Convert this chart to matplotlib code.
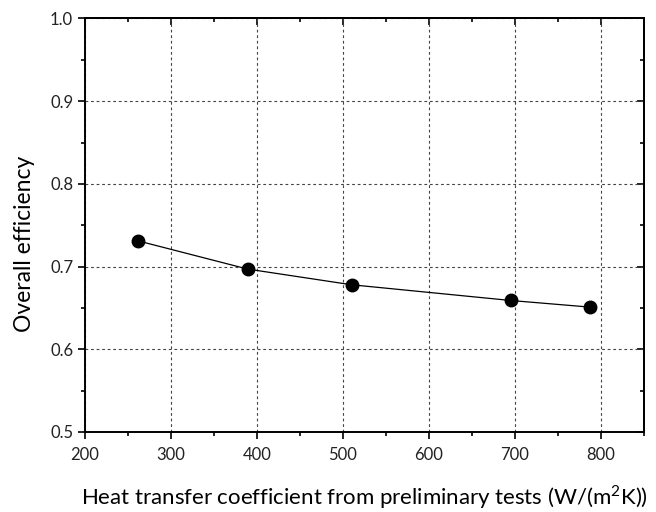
import numpy as np
import matplotlib
matplotlib.use("Agg")
import matplotlib.pyplot as plt
from matplotlib.ticker import MultipleLocator

# heat transfer coefficient vs overall efficiency
htc = [262, 389, 510, 695, 787]
efficiency = [0.731, 0.697, 0.678, 0.659, 0.651]

plt.rcParams["font.family"] = ["Lato", "DejaVu Sans"]
plt.rcParams["mathtext.fontset"] = "custom"
plt.rcParams["mathtext.rm"] = "Lato"

fig = plt.figure(figsize=(6.56, 5.12), dpi=100)
ax = fig.add_axes([0.1296, 0.1563, 0.8521, 0.8076])

ax.plot(htc, efficiency, color="black", lw=0.9, marker="o", ms=9,
        mfc="black", mec="black", zorder=3)

ax.set_xlim(200, 850)
ax.set_ylim(0.5, 1.0)
ax.xaxis.set_minor_locator(MultipleLocator(50))
ax.yaxis.set_minor_locator(MultipleLocator(0.05))
ax.set_xticks(range(200, 801, 100))
yt = np.round(np.arange(0.5, 1.01, 0.1), 1)
ax.set_yticks(yt)
ax.set_yticklabels([f"{v:.1f}" for v in yt])

ax.grid(True, which="major", color="#444444", ls=(0, (2.5, 2.5)), lw=0.8)
ax.set_axisbelow(True)

for s in ax.spines.values():
    s.set_linewidth(1.4)

ax.tick_params(which="both", direction="out", width=1.2, labelsize=12,
               labelcolor="#222222", top=False, right=False)
ax.tick_params(which="major", length=5)
ax.tick_params(which="minor", length=3)
ax.tick_params(axis="x", pad=6)

# inward ticks on the top and right edges
sec_x = ax.secondary_xaxis("top")
sec_x.set_xticks(range(200, 801, 100))
sec_x.xaxis.set_minor_locator(MultipleLocator(50))
sec_x.tick_params(which="both", direction="in", width=1.2, labeltop=False)
sec_x.tick_params(which="major", length=5)
sec_x.tick_params(which="minor", length=3)
sec_x.spines["top"].set_linewidth(1.4)
sec_y = ax.secondary_yaxis("right")
sec_y.set_yticks(yt)
sec_y.yaxis.set_minor_locator(MultipleLocator(0.05))
sec_y.tick_params(which="both", direction="in", width=1.2, labelright=False)
sec_y.tick_params(which="major", length=5)
sec_y.tick_params(which="minor", length=3)
sec_y.spines["right"].set_linewidth(1.4)

ax.set_xlabel("Heat transfer coefficient from preliminary tests (W/(m$^2$K))",
              fontsize=16, labelpad=14)
ax.set_ylabel("Overall efficiency", fontsize=16.5)
ax.yaxis.set_label_coords(-0.09, 0.455)

fig.savefig("out.png", dpi=100)
